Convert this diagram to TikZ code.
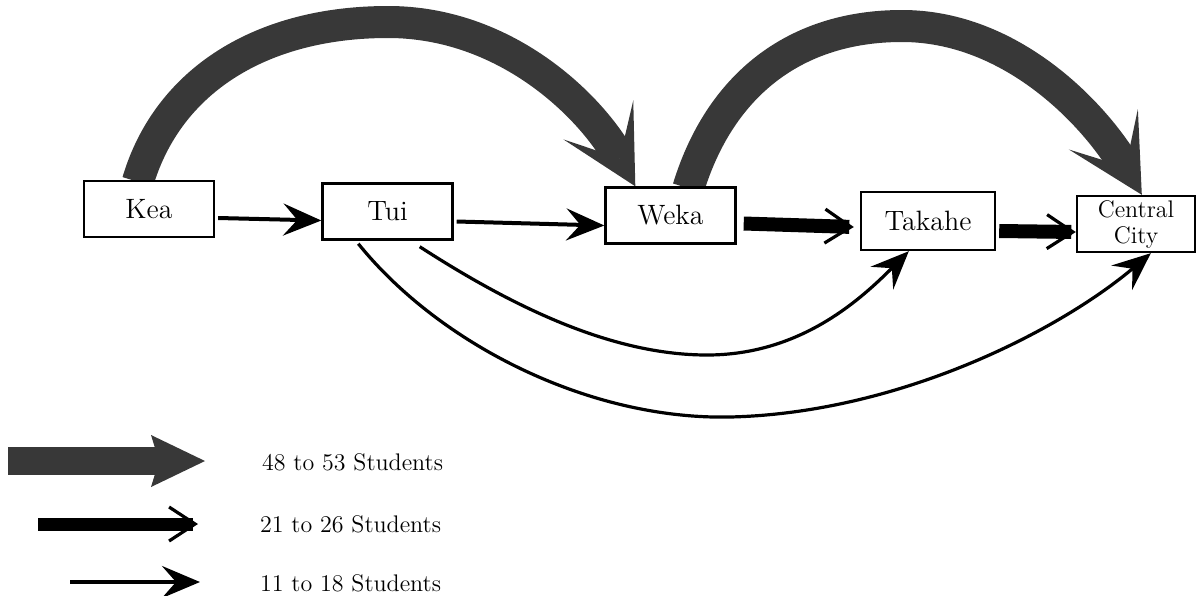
\documentclass[tikz,border=0pt]{standalone}
\usepackage{tikz}
\usetikzlibrary{arrows.meta}
\usetikzlibrary{backgrounds}

\begin{document}
\begin{tikzpicture}[x=0.5pt,y=-0.5pt,
    thinflow/.style={line width=2pt,-{Stealth[length=19pt,width=16pt,inset=7pt]}},
    thickflow/.style={line width=7pt,-{Straight Barb[length=13pt,width=17pt,line width=1.6pt]}},
    bigflow/.style={line width=16pt,draw=black!78,-{Stealth[length=38pt,width=40pt,inset=22pt,line width=0pt]}},
    keytext/.style={anchor=west,font=\fontsize{12}{14}\selectfont}]
          \useasboundingbox (0,0) rectangle (1197,595);
          \begin{scope}[every node/.style={draw,rectangle,fill=white,line width=1.2pt,minimum width=65pt,minimum height=28pt,inner sep=2pt,font=\fontsize{14}{16}\selectfont}]
            \node (kea) at (149,209) {Kea};
            \node (tui) at (387.5,211.5) {Tui};
            \node (weka) at (670.5,215.5) {Weka};
            \node[minimum width=67pt,minimum height=29pt] (takahe) at (928,221) {Takahe};
            \node[minimum width=59pt,align=center,font=\fontsize{12}{13}\selectfont] (city) at (1136,224) {Central\\City};
          \end{scope}
          \begin{scope}[on background layer]
            \draw[bigflow] ([xshift=27.5pt,yshift=-1pt]kea.north west) .. controls (168,80) and (262,22) .. (388,22)
              .. controls (505,22) and (590,105) .. ([xshift=15.5pt]weka.north west);
            \draw[bigflow] ([xshift=42pt,yshift=-1pt]weka.north west) .. controls (720,85) and (795,26) .. (902,26)
              .. controls (1012,26) and (1095,115) .. ([xshift=33pt]city.north west);
          \end{scope}
          \begin{scope}
            \draw[thinflow] ([xshift=1.5pt,yshift=-4.5pt]kea.east) -- ([yshift=-4.5pt]tui.west);
            \draw[thinflow] ([xshift=1.5pt,yshift=-5pt]tui.east) -- ([yshift=-5pt]weka.west);
            \draw[thickflow] ([xshift=3.5pt,yshift=-4pt]weka.east) -- ([xshift=-3pt,yshift=-3pt]takahe.west);
            \draw[thickflow] ([xshift=1.5pt,yshift=-5pt]takahe.east) -- ([yshift=-4pt]city.west);
            \draw[thinflow,line width=1.6pt] ([xshift=-17pt,yshift=-3pt]tui.south east) .. controls (510,305) and (610,355) .. (707,355)
              .. controls (800,355) and (860,300) .. ([xshift=24.5pt]takahe.south west);
            \draw[thinflow,line width=1.6pt] ([xshift=18.5pt,yshift=-1.5pt]tui.south west) .. controls (440,345) and (590,420) .. (730,417)
              .. controls (900,413) and (1060,330) .. ([xshift=37.5pt]city.south west);
          \end{scope}
          % key
          \node[keytext] (key1) at (255,462) {48 to 53 Students};
          \node[keytext] (key2) at (253,524) {21 to 26 Students};
          \node[keytext] (key3) at (253,583) {11 to 18 Students};
          \coordinate (k1s) at (8,461);
          \coordinate (k1e) at (205,461);
          \coordinate (k2s) at (38,524);
          \coordinate (k2e) at (198,524);
          \coordinate (k3s) at (70,582);
          \coordinate (k3e) at (200,582);
          \draw[line width=14pt,draw=black!78,-{Stealth[length=27pt,width=26pt,inset=4pt,line width=0pt]}] (k1s) -- (k1e);
          \draw[thickflow,line width=6.5pt] (k2s) -- (k2e);
          \draw[thinflow] (k3s) -- (k3e);
        \end{tikzpicture}
\end{document}
